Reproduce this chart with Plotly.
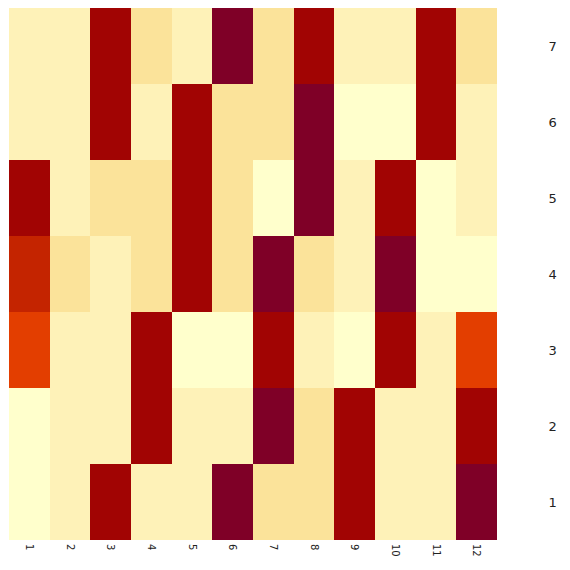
import plotly.graph_objects as go

cols = [str(i) for i in range(1, 13)]
rows = [str(i) for i in range(1, 8)]

# colour level of each cell, one list per row, bottom row (1) first
row_1 = [0, 1, 5, 1, 1, 6, 2, 2, 5, 1, 1, 6]
row_2 = [0, 1, 1, 5, 1, 1, 6, 2, 5, 1, 1, 5]
row_3 = [3, 1, 1, 5, 0, 0, 5, 1, 0, 5, 1, 3]
row_4 = [4, 2, 1, 2, 5, 2, 6, 2, 1, 6, 0, 0]
row_5 = [5, 1, 2, 2, 5, 2, 0, 6, 1, 5, 0, 1]
row_6 = [1, 1, 5, 1, 5, 2, 2, 6, 0, 0, 5, 1]
row_7 = [1, 1, 5, 2, 1, 6, 2, 5, 1, 1, 5, 2]

level_colors = ['#ffffcc', '#fef2b8', '#fbe39a', '#e33e00', '#c42400', '#a10403', '#7f0027']

z = [row_1, row_2, row_3, row_4, row_5, row_6, row_7]
n = len(level_colors) - 1
scale = [[i / n, c] for i, c in enumerate(level_colors)]

fig = go.Figure(go.Heatmap(
    z=z, x=cols, y=rows,
    colorscale=scale, zmin=0, zmax=n,
    showscale=False, xgap=0, ygap=0,
))

# page body adds an 8px margin, so the figure is a bit smaller than the window
fig.update_layout(
    width=562, height=562,
    margin=dict(l=1, r=73, t=0, b=30),
    paper_bgcolor='white', plot_bgcolor='white',
    font=dict(family='DejaVu Sans', color='#222222'),
)
fig.update_xaxes(tickangle=90, tickfont=dict(size=10), ticks='outside',
                 ticklen=1, tickcolor='rgba(0,0,0,0)', showgrid=False, zeroline=False)
fig.update_yaxes(side='right', tickfont=dict(size=13), ticks='outside',
                 ticklen=48, tickcolor='rgba(0,0,0,0)', showgrid=False, zeroline=False)

fig.write_html("out.html")
